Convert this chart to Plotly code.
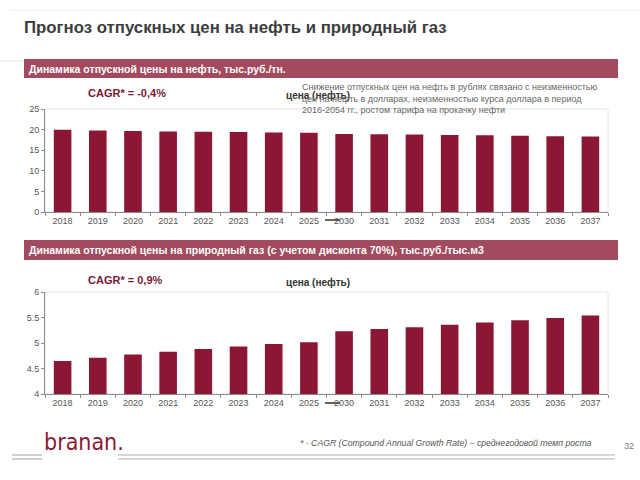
import plotly.graph_objects as go

years = ["2018", "2019", "2020", "2021", "2022", "2023", "2024", "2025",
         "2030", "2031", "2032", "2033", "2034", "2035", "2036", "2037"]
oil_price = [19.95, 19.8, 19.65, 19.55, 19.5, 19.4, 19.3, 19.25,
             18.95, 18.85, 18.8, 18.7, 18.6, 18.5, 18.4, 18.35]
gas_price = [4.645, 4.71, 4.775, 4.83, 4.88, 4.93, 4.98, 5.016,
             5.23, 5.275, 5.31, 5.36, 5.40, 5.445, 5.49, 5.54]
oil_ticks = [0, 5, 10, 15, 20, 25]
gas_ticks = [4, 4.5, 5, 5.5, 6]

BAR = "#8C1735"
HEAD = "#A24A5E"
FONT = "Liberation Sans"

fig = go.Figure()
fig.add_trace(go.Bar(x=years, y=oil_price, marker=dict(color=BAR, line=dict(width=0)),
                     xaxis="x", yaxis="y", name="цена (нефть)"))
fig.add_trace(go.Bar(x=years, y=gas_price, marker=dict(color=BAR, line=dict(width=0)),
                     xaxis="x2", yaxis="y2", name="цена (нефть)"))

xd = [45 / 640, 608 / 640]
top_dom = [1 - 212 / 480, 1 - 109 / 480]
bot_dom = [1 - 394 / 480, 1 - 292 / 480]

axis_common = dict(showgrid=False, zeroline=False, showline=True, linecolor="#8a8a8a",
                   linewidth=1, ticks="outside", ticklen=3, tickcolor="#8a8a8a", automargin=False,
                   tickfont=dict(family=FONT, size=9, color="#555555"))

fig.update_layout(
    width=640, height=480,
    margin=dict(l=0, r=0, t=0, b=0, autoexpand=False),
    paper_bgcolor="white", plot_bgcolor="white",
    showlegend=False, bargap=0.5,
    font=dict(family=FONT),
    xaxis=dict(domain=xd, anchor="y", tickson="boundaries", **axis_common),
    yaxis=dict(domain=top_dom, anchor="x", range=[0, 25], tickvals=oil_ticks, **axis_common),
    xaxis2=dict(domain=xd, anchor="y2", tickson="boundaries", **axis_common),
    yaxis2=dict(domain=bot_dom, anchor="x2", range=[4, 6], tickvals=gas_ticks, **axis_common),
)

def py(v):
    return 1 - v / 480

shapes = []
for y0, y1 in [(212, 109), (394, 292)]:
    shapes.append(dict(type="rect", xref="paper", yref="paper", x0=45 / 640, x1=608 / 640,
                       y0=py(y0), y1=py(y1), line=dict(color="#e6e6e6", width=1), layer="below"))
for y0, y1 in [(59, 78), (240, 260)]:
    shapes.append(dict(type="rect", xref="paper", yref="paper", x0=24 / 640, x1=618 / 640,
                       y0=py(y1), y1=py(y0), fillcolor=HEAD, line=dict(width=0)))
shapes.append(dict(type="line", xref="paper", yref="paper", x0=10 / 640, x1=1, y0=py(10),
                   y1=py(10), line=dict(color="#eeeeee", width=1)))
shapes.append(dict(type="line", xref="paper", yref="paper", x0=0, x1=24 / 640, y0=py(61),
                   y1=py(61), line=dict(color="#e8e8e8", width=1)))
for yy in [455, 459]:
    shapes.append(dict(type="line", xref="paper", yref="paper", x0=12 / 640, x1=42 / 640,
                       y0=py(yy), y1=py(yy), line=dict(color="#b0b0b0", width=1.2)))
    shapes.append(dict(type="line", xref="paper", yref="paper", x0=118 / 640, x1=615 / 640,
                       y0=py(yy), y1=py(yy), line=dict(color="#b0b0b0", width=1.2)))
for yy in [220, 403]:
    shapes.append(dict(type="line", xref="paper", yref="paper", x0=325 / 640, x1=340 / 640,
                       y0=py(yy), y1=py(yy), line=dict(color="#333333", width=1.5)))
fig.update_layout(shapes=shapes)

ann = []
def txt(x, y, s, size, color, bold=False, italic=False, xanchor="left", family=FONT):
    if bold:
        s = "<b>" + s + "</b>"
    if italic:
        s = "<i>" + s + "</i>"
    ann.append(dict(x=x / 640, y=py(y), xref="paper", yref="paper", text=s, showarrow=False,
                    xanchor=xanchor, yanchor="middle", font=dict(family=family, size=size, color=color)))

txt(22, 27, "Прогноз отпускных цен на нефть и природный газ", 16.8, "#3d3d3d", bold=True)
txt(27, 69, "Динамика отпускной цены на нефть, тыс.руб./тн.", 10.5, "white", bold=True)
txt(27, 250, "Динамика отпускной цены на природный газ (с учетом дисконта 70%), тыс.руб./тыс.м3",
    10.5, "white", bold=True)
txt(86, 93, "CAGR* = -0,4%", 11, "#7a1a35", bold=True)
txt(86, 280, "CAGR* = 0,9%", 11, "#7a1a35", bold=True)
txt(284, 96, "цена (нефть)", 10, "#333333", bold=True)
txt(284, 282, "цена (нефть)", 10, "#333333", bold=True)
ann.append(dict(x=300 / 640, y=py(80), xref="paper", yref="paper",
                text="Снижение отпускных цен на нефть в рублях связано с неизменностью<br>"
                     "цен на нефть в долларах, неизменностью курса доллара в период<br>"
                     "2016-2054 гг., ростом тарифа на прокачку нефти",
                showarrow=False, xanchor="left", yanchor="top", align="left",
                font=dict(family=FONT, size=9, color="#666666")))
txt(42, 442, "branan.", 23, "#8C1735",
    family="DejaVu Sans Condensed, Liberation Sans Narrow, Arial Narrow, sans-serif")
txt(298, 443, "* - CAGR (Compound Annual Growth Rate) – среднегодовой темп роста", 8.7, "#555555",
    italic=True)
txt(622, 446, "32", 9, "#777777")
fig.update_layout(annotations=ann)

fig.write_html("out.html", config={"displayModeBar": False},
               post_script="document.body.style.margin='0';document.body.style.overflow='hidden';")
